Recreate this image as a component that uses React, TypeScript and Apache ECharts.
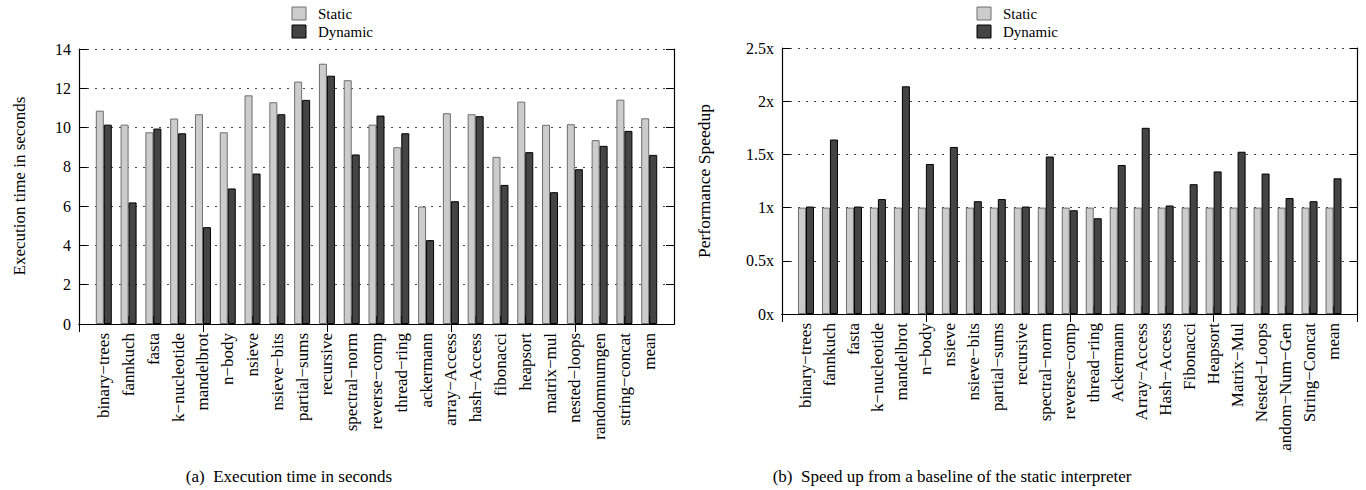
import React, { useEffect, useRef } from 'react';
import * as echarts from 'echarts';

// ---- data ----
const timeCategories = [
  'binary−trees', 'fannkuch', 'fasta', 'k−nucleotide', 'mandelbrot', 'n−body', 'nsieve',
  'nsieve−bits', 'partial−sums', 'recursive', 'spectral−norm', 'reverse−comp', 'thread−ring',
  'ackermann', 'array−Access', 'hash−Access', 'fibonacci', 'heapsort', 'matrix−mul',
  'nested−loops', 'randomnumgen', 'string−concat', 'mean',
];
const timeStatic = [
  10.86, 10.15, 9.76, 10.46, 10.68, 9.76, 11.64, 11.29, 12.34, 13.25, 12.41, 10.15, 9.0,
  5.98, 10.73, 10.68, 8.51, 11.32, 10.14, 10.17, 9.36, 11.42, 10.47,
];
const timeDynamic = [
  10.15, 6.19, 9.95, 9.71, 4.93, 6.9, 7.66, 10.68, 11.41, 12.64, 8.63, 10.61, 9.71,
  4.27, 6.25, 10.58, 7.08, 8.75, 6.71, 7.88, 9.07, 9.83, 8.61,
];

const speedCategories = [
  'binary−trees', 'fannkuch', 'fasta', 'k−nucleotide', 'mandelbrot', 'n−body', 'nsieve',
  'nsieve−bits', 'partial−sums', 'recursive', 'spectral−norm', 'reverse−comp', 'thread−ring',
  'Ackermann', 'Array−Access', 'Hash−Access', 'Fibonacci', 'Heapsort', 'Matrix−Mul',
  'Nested−Loops', 'Random−Num−Gen', 'String−Concat', 'mean',
];
const speedStatic = [
  1, 1, 1, 1, 1, 1, 1, 1, 1, 1, 1, 1, 1, 1, 1, 1, 1, 1, 1, 1, 1, 1, 1,
];
const speedDynamic = [
  1.01, 1.64, 1.01, 1.08, 2.14, 1.41, 1.57, 1.06, 1.08, 1.01, 1.48, 0.975, 0.9,
  1.4, 1.75, 1.02, 1.22, 1.34, 1.525, 1.32, 1.09, 1.06, 1.275,
];

const seriesNames = ['Static', 'Dynamic'];
const timeAxis = { min: 0, max: 14, interval: 2 };
const speedAxis = { min: 0, max: 2.5, interval: 0.5 };
const captionA = '(a)\u00a0 Execution time in seconds';
const captionB = '(b)\u00a0 Speed up from a baseline of the static interpreter';
const titleA = 'Execution time in seconds';
const titleB = 'Performance Speedup';

// ---- styles ----
const FONT = 'Liberation Serif';
const STATIC_FILL = '#cccccc';
const STATIC_BORDER = '#6e6e6e';
const DYN_FILL = '#444444';
const DYN_BORDER = '#000000';

const padCats = (c: string[]) => ['', ...c, ' '];
const padVals = (v: number[]) => [null, ...v, null];

export default function App() {
  const ref = useRef<HTMLDivElement>(null);

  useEffect(() => {
    if (!ref.current) return;
    const chart = echarts.init(ref.current, null, { renderer: 'svg' });

    const grids = [
      { left: 79, top: 49, width: 595, height: 275 },
      { left: 782, top: 48, width: 579, height: 266 },
    ];

    const xAxes: any[] = [];
    const yAxes: any[] = [];
    const cats = [timeCategories, speedCategories];
    const yRanges = [timeAxis, speedAxis];

    [0, 1].forEach((g) => {
      xAxes.push({
        type: 'category',
        gridIndex: g,
        position: 'bottom',
        data: padCats(cats[g]),
        boundaryGap: false,
        axisLine: { show: true, lineStyle: { color: '#000', width: 1.2 } },
        axisTick: { show: true, inside: true, length: 8, lineStyle: { color: '#000' } },
        axisLabel: {
          show: true,
          rotate: 90,
          interval: 0,
          margin: 9,
          fontFamily: FONT,
          fontSize: 17,
          color: '#000',
        },
        splitLine: { show: false },
      });
      xAxes.push({
        type: 'category',
        gridIndex: g,
        position: 'top',
        data: padCats(cats[g]),
        boundaryGap: false,
        axisLine: { show: true, lineStyle: { color: '#000', width: 1.2 } },
        axisTick: { show: true, inside: true, length: 8, lineStyle: { color: '#000' } },
        axisLabel: { show: false },
        splitLine: { show: false },
      });
      yAxes.push({
        type: 'value',
        gridIndex: g,
        position: 'left',
        min: yRanges[g].min,
        max: yRanges[g].max,
        interval: yRanges[g].interval,
        axisLine: { show: true, lineStyle: { color: '#000', width: 1.2 } },
        axisTick: { show: true, inside: true, length: 8, lineStyle: { color: '#000' } },
        axisLabel: {
          show: true,
          margin: 8,
          fontFamily: FONT,
          fontSize: 16,
          color: '#000',
          formatter: g === 0 ? (v: number) => String(v) : (v: number) => v + 'x',
        },
        splitLine: {
          show: true,
          lineStyle: { color: '#444', type: [2, 6], width: 1 },
        },
      });
      yAxes.push({
        type: 'value',
        gridIndex: g,
        position: 'right',
        min: yRanges[g].min,
        max: yRanges[g].max,
        interval: yRanges[g].interval,
        axisLine: { show: true, lineStyle: { color: '#000', width: 1.2 } },
        axisTick: { show: true, inside: true, length: 8, lineStyle: { color: '#000' } },
        axisLabel: { show: false },
        splitLine: { show: false },
      });
    });

    const barSeries = (name: string, data: number[], g: number, fill: string, border: string) => ({
      type: 'bar',
      name,
      xAxisIndex: g * 2,
      yAxisIndex: g * 2,
      data: padVals(data),
      barWidth: 8,
      barGap: '0%',
      itemStyle: { color: fill, borderColor: border, borderWidth: 1 },
      z: 3,
    });

    const legendItems = (x: number) => [
      { type: 'rect', shape: { x, y: 7, width: 14, height: 13 }, style: { fill: STATIC_FILL, stroke: STATIC_BORDER, lineWidth: 1 } },
      { type: 'text', x: x + 26, y: 14, style: { text: seriesNames[0], font: `15px "${FONT}"`, fill: '#000', verticalAlign: 'middle' } },
      { type: 'rect', shape: { x, y: 25, width: 14, height: 13 }, style: { fill: DYN_FILL, stroke: DYN_BORDER, lineWidth: 1 } },
      { type: 'text', x: x + 26, y: 32, style: { text: seriesNames[1], font: `15px "${FONT}"`, fill: '#000', verticalAlign: 'middle' } },
    ];

    chart.setOption({
      animation: false,
      backgroundColor: '#fff',
      grid: grids.map((g) => ({ ...g, show: false, containLabel: false })),
      xAxis: xAxes,
      yAxis: yAxes,
      series: [
        barSeries(seriesNames[0], timeStatic, 0, STATIC_FILL, STATIC_BORDER),
        barSeries(seriesNames[1], timeDynamic, 0, DYN_FILL, DYN_BORDER),
        barSeries(seriesNames[0], speedStatic, 1, STATIC_FILL, STATIC_BORDER),
        barSeries(seriesNames[1], speedDynamic, 1, DYN_FILL, DYN_BORDER),
      ],
      graphic: [
        ...legendItems(292),
        ...legendItems(977),
        {
          type: 'text', x: 19, y: 186, rotation: Math.PI / 2,
          style: { text: titleA, font: `17px "${FONT}"`, fill: '#000', align: 'center', verticalAlign: 'middle' },
        },
        {
          type: 'text', x: 704, y: 181, rotation: Math.PI / 2,
          style: { text: titleB, font: `17.5px "${FONT}"`, fill: '#000', align: 'center', verticalAlign: 'middle' },
        },
        {
          type: 'rect', z: 100, shape: { x: 1278, y: 452, width: 22, height: 30 },
          style: { fill: '#fff', stroke: 'none' },
        },
        {
          type: 'text', x: 289, y: 476, z: 101,
          style: { text: captionA, font: `17px "${FONT}"`, fill: '#000', align: 'center', verticalAlign: 'middle' },
        },
        {
          type: 'text', x: 952, y: 476, z: 101,
          style: { text: captionB, font: `17px "${FONT}"`, fill: '#000', align: 'center', verticalAlign: 'middle' },
        },
      ],
    });

    return () => chart.dispose();
  }, []);

  return (
    <div
      ref={ref}
      style={{ position: 'absolute', left: 0, top: 0, width: 1366, height: 490, background: '#fff' }}
    />
  );
}
